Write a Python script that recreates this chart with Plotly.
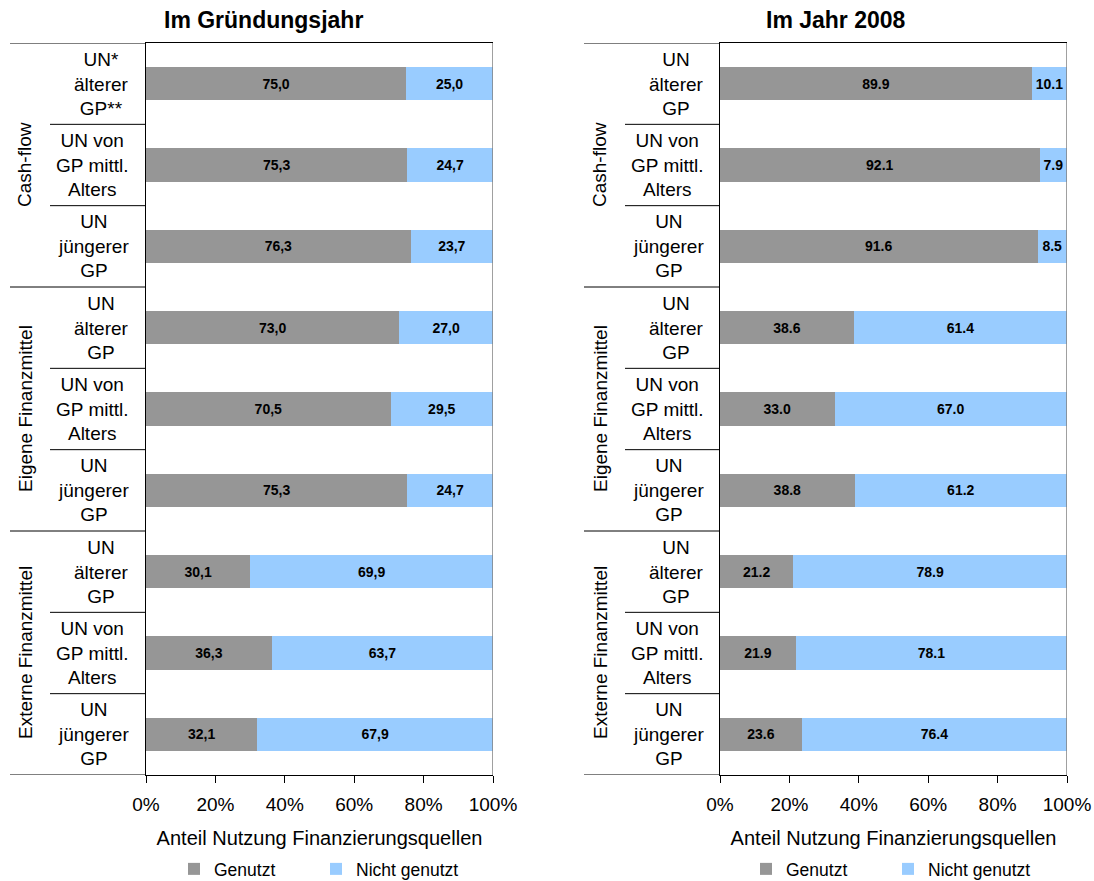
import plotly.graph_objects as go

W, H = 1094, 881

groups = ["Cash-flow", "Eigene Finanzmittel", "Externe Finanzmittel"]
cats_left = ["UN*<br>älterer<br>GP**", "UN von<br>GP mittl.<br>Alters", "UN<br>jüngerer<br>GP",
             "UN<br>älterer<br>GP", "UN von<br>GP mittl.<br>Alters", "UN<br>jüngerer<br>GP",
             "UN<br>älterer<br>GP", "UN von<br>GP mittl.<br>Alters", "UN<br>jüngerer<br>GP"]
cats_right = ["UN<br>älterer<br>GP", "UN von<br>GP mittl.<br>Alters", "UN<br>jüngerer<br>GP",
              "UN<br>älterer<br>GP", "UN von<br>GP mittl.<br>Alters", "UN<br>jüngerer<br>GP",
              "UN<br>älterer<br>GP", "UN von<br>GP mittl.<br>Alters", "UN<br>jüngerer<br>GP"]

left_used = [75.0, 75.3, 76.3, 73.0, 70.5, 75.3, 30.1, 36.3, 32.1]
left_not = [25.0, 24.7, 23.7, 27.0, 29.5, 24.7, 69.9, 63.7, 67.9]
right_used = [89.9, 92.1, 91.6, 38.6, 33.0, 38.8, 21.2, 21.9, 23.6]
right_not = [10.1, 7.9, 8.5, 61.4, 67.0, 61.2, 78.9, 78.1, 76.4]

titles = ["Im Gründungsjahr", "Im Jahr 2008"]
xtitle = "Anteil Nutzung Finanzierungsquellen"
series_names = ["Genutzt", "Nicht genutzt"]
tickvals = [0, 20, 40, 60, 80, 100]
ticktext = ["0%", "20%", "40%", "60%", "80%", "100%"]

GRAY = "#969696"
BLUE = "#99CCFF"
FONT = "Liberation Sans, Arial, sans-serif"

pos = list(range(len(cats_left)))


def px(x):
    return x / W


def py(y):
    return 1 - y / H


fig = go.Figure()

panels = [
    dict(used=left_used, notu=left_not, cats=cats_left, xa="x", ya="y", legs=["legend", "legend2"],
         leg_x=[174, 316],
         fmt=lambda v: f"{v:.1f}".replace(".", ","),
         dom=[px(146), px(493)], grp_x0=10, inn_x0=50, ax_x=146, lab_x=131, grp_lab_x=25,
         title_x=263),
    dict(used=right_used, notu=right_not, cats=cats_right, xa="x2", ya="y2", legs=["legend3", "legend4"],
         leg_x=[746, 888],
         fmt=lambda v: f"{v:.1f}",
         dom=[px(720), px(1067)], grp_x0=584, inn_x0=625, ax_x=720, lab_x=706, grp_lab_x=600,
         title_x=836),
]

annotations = []
shapes = []
legends = {}

for idx, p in enumerate(panels):
    for s, (name, vals, col) in enumerate([(series_names[0], p["used"], GRAY),
                                           (series_names[1], p["notu"], BLUE)]):
        fig.add_trace(go.Bar(
            y=pos, x=vals, orientation="h", name=name,
            marker=dict(color=col, line=dict(width=0)),
            text=[p["fmt"](v) for v in vals], textposition="inside",
            insidetextanchor="middle", constraintext="none",
            textfont=dict(family=FONT, size=14, color="black", weight="bold"),
            width=0.41, xaxis=p["xa"], yaxis=p["ya"], legend=p["legs"][s],
            hoverinfo="x+name",
        ))
        legends[p["legs"][s]] = dict(orientation="h", yanchor="middle", xanchor="left",
                                     x=px(p["leg_x"][s]), y=py(869),
                                     font=dict(family=FONT, size=17.5, color="black"),
                                     bgcolor="rgba(0,0,0,0)")
    yref = p["ya"]
    # category labels
    for i, c in enumerate(p["cats"]):
        annotations.append(dict(x=px(p["lab_x"]), xref="paper", y=i, yref=yref, text=c,
                                showarrow=False, xanchor="right", yanchor="middle", align="center",
                                font=dict(family=FONT, size=19, color="black")))
    # group labels
    for g, name in enumerate(groups):
        annotations.append(dict(x=px(p["grp_lab_x"]), xref="paper", y=g * 3 + 1, yref=yref, text=name,
                                showarrow=False, xanchor="center", yanchor="middle", textangle=-90,
                                font=dict(family=FONT, size=19, color="black")))
    # divider lines
    for k in range(len(pos) + 1):
        x0 = p["grp_x0"] if k % 3 == 0 else p["inn_x0"]
        shapes.append(dict(type="line", xref="paper", yref=yref, x0=px(x0), x1=px(p["ax_x"]),
                           y0=k - 0.5, y1=k - 0.5, line=dict(color="black", width=1)))
    # right border gray
    shapes.append(dict(type="line", xref=p["xa"], yref=yref, x0=100, x1=100, y0=-0.5, y1=len(pos) - 0.5,
                       line=dict(color="#808080", width=1.5)))
    annotations.append(dict(x=px(p["title_x"]), xref="paper", y=py(20), yref="paper",
                            text="<b>" + titles[idx] + "</b>", showarrow=False,
                            xanchor="center", yanchor="middle",
                            font=dict(family=FONT, size=23, color="black")))

axis_common_x = dict(range=[0, 100], tickvals=tickvals, ticktext=ticktext, ticks="outside", ticklen=7,
                     tickcolor="black", showline=True, linecolor="black", mirror=True, showgrid=False,
                     zeroline=False, tickfont=dict(family=FONT, size=19, color="black"),
                     ticklabelstandoff=5,
                     title=dict(text=xtitle, font=dict(family=FONT, size=20, color="black"), standoff=17),
                     automargin=False, fixedrange=True)
axis_common_y = dict(range=[len(pos) - 0.5, -0.5], showticklabels=False, ticks="", showline=True,
                     linecolor="black", showgrid=False, zeroline=False, domain=[py(775), py(43)],
                     automargin=False, fixedrange=True)

fig.update_layout(
    width=W, height=H, margin=dict(l=0, r=0, t=0, b=0, autoexpand=False),
    paper_bgcolor="white", plot_bgcolor="white",
    barmode="stack", barnorm="percent",
    font=dict(family=FONT, color="black"),
    xaxis=dict(domain=panels[0]["dom"], anchor="y", **axis_common_x),
    yaxis=dict(anchor="x", **axis_common_y),
    xaxis2=dict(domain=panels[1]["dom"], anchor="y2", **axis_common_x),
    yaxis2=dict(anchor="x2", **axis_common_y),
    annotations=annotations, shapes=shapes, showlegend=True,
    **legends,
)

fig.write_html("out.html", config={"displayModeBar": False},
               post_script="document.body.style.margin='0';")
